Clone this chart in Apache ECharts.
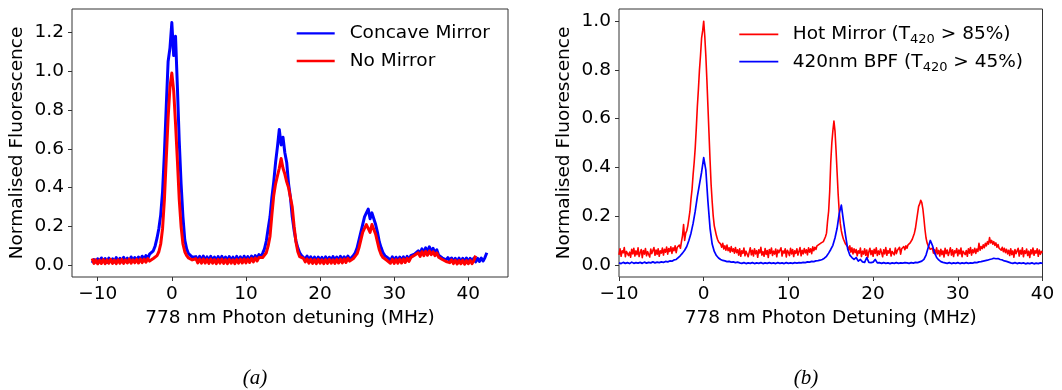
<!DOCTYPE html>
<html>
<head>
<meta charset="utf-8">
<script src="https://cdn.jsdelivr.net/npm/echarts@6/dist/echarts.min.js"></script>
<style>
  html, body { margin: 0; padding: 0; background: #ffffff; }
  #chart { width: 1062px; height: 390px; }
</style>
</head>
<body>
<div id="chart"></div>
<script>
// Detuning sampling
const STEP = 0.25;        // MHz between samples (panel a, BPF trace)
const FINE_STEP = 0.125;  // MHz between samples (Hot Mirror trace)
const startA = -10.75;    // panel (a) traces start here
const startB = -10;       // panel (b) traces start here

// (a) Concave Mirror, -10.75 … 42.5 MHz
const concaveMirror = [
  // -10.75 … -5.0
  0.012, 0.03, 0.016, 0.034, 0.018, 0.038, 0.02, 0.035, 0.015, 0.037, 0.02, 0.034,
  0.017, 0.04, 0.021, 0.036, 0.019, 0.041, 0.022, 0.037, 0.02, 0.043, 0.024, 0.04,
  // -4.75 … -3.0
  0.025, 0.043, 0.027, 0.047, 0.03, 0.05, 0.035, 0.058,
  // -2.75 … 3.0
  0.06, 0.075, 0.1, 0.14, 0.19, 0.26, 0.38, 0.58, 0.82, 1.05, 1.12, 1.25,
  1.08, 1.18, 0.92, 0.64, 0.42, 0.25, 0.13, 0.085, 0.06, 0.05, 0.042, 0.045,
  // 3.25 … 12.0
  0.045, 0.024, 0.046, 0.025, 0.048, 0.023, 0.044, 0.022, 0.046, 0.024,
  0.042, 0.021, 0.045, 0.023, 0.046, 0.024, 0.043, 0.022, 0.045, 0.024,
  0.042, 0.021, 0.046, 0.025, 0.044, 0.023, 0.047, 0.026, 0.045, 0.025,
  0.048, 0.03, 0.05, 0.034, 0.055, 0.042,
  // 12.25 … 17.5
  0.062, 0.085, 0.125, 0.19, 0.25, 0.35, 0.43, 0.53, 0.61, 0.70, 0.62,
  0.66, 0.58, 0.53, 0.42, 0.35, 0.25, 0.18, 0.125, 0.09, 0.065, 0.05,
  // 17.75 … 24.0
  0.05, 0.032, 0.048, 0.026, 0.044, 0.024, 0.042, 0.022, 0.043, 0.024,
  0.041, 0.021, 0.044, 0.023, 0.042, 0.024, 0.045, 0.025, 0.043, 0.024,
  0.046, 0.027, 0.044, 0.028, 0.048, 0.03,
  // 24.25 … 29.25
  0.04, 0.05, 0.065, 0.09, 0.13, 0.17, 0.21, 0.25, 0.27, 0.29, 0.24,
  0.27, 0.26, 0.21, 0.17, 0.12, 0.09, 0.065, 0.05, 0.042, 0.036,
  // 29.5 … 32.25
  0.024, 0.044, 0.023, 0.042, 0.022, 0.043, 0.024, 0.044, 0.025, 0.046, 0.03, 0.05,
  // 32.5 … 37.5
  0.04, 0.058, 0.05, 0.075, 0.062, 0.085, 0.066, 0.09, 0.07, 0.095, 0.07,
  0.088, 0.066, 0.08, 0.052, 0.062, 0.038, 0.048, 0.028, 0.04, 0.024,
  // 37.75 … 42.5
  0.038, 0.019, 0.036, 0.018, 0.037, 0.016, 0.036, 0.019, 0.038, 0.017,
  0.036, 0.019, 0.037, 0.018, 0.036, 0.02, 0.038, 0.022, 0.04, 0.065
];

// (a) No Mirror, -10.75 … 41.0 MHz
const noMirror = [
  // -10.75 … -5.0
  0.035, 0.01, 0.028, 0.008, 0.027, 0.01, 0.03, 0.009, 0.028, 0.011, 0.031, 0.01,
  0.027, 0.009, 0.029, 0.011, 0.031, 0.01, 0.028, 0.012, 0.032, 0.011, 0.029, 0.013,
  // -4.75 … -3.0
  0.031, 0.012, 0.033, 0.014, 0.032, 0.016, 0.035, 0.022,
  // -2.75 … 3.0
  0.03, 0.035, 0.04, 0.05, 0.07, 0.11, 0.19, 0.34, 0.55, 0.76, 0.92, 0.99,
  0.90, 0.73, 0.54, 0.34, 0.2, 0.11, 0.07, 0.05, 0.038, 0.032, 0.028, 0.03,
  // 3.25 … 12.0
  0.034, 0.013, 0.032, 0.011, 0.033, 0.012, 0.031, 0.01, 0.032, 0.011,
  0.03, 0.009, 0.031, 0.011, 0.032, 0.01, 0.03, 0.009, 0.031, 0.011,
  0.029, 0.009, 0.031, 0.011, 0.032, 0.012, 0.033, 0.013, 0.032, 0.015,
  0.036, 0.018, 0.038, 0.022, 0.04, 0.04,
  // 12.25 … 17.5
  0.04, 0.05, 0.065, 0.1, 0.15, 0.26, 0.36, 0.42, 0.46, 0.50, 0.55,
  0.5, 0.47, 0.43, 0.4, 0.41, 0.3, 0.2, 0.12, 0.07, 0.045, 0.035,
  // 17.75 … 24.0
  0.036, 0.018, 0.033, 0.011, 0.031, 0.01, 0.03, 0.009, 0.031, 0.011,
  0.029, 0.009, 0.03, 0.01, 0.031, 0.011, 0.029, 0.01, 0.031, 0.012,
  0.032, 0.013, 0.033, 0.015, 0.036, 0.022,
  // 24.25 … 29.25
  0.03, 0.035, 0.045, 0.06, 0.09, 0.13, 0.17, 0.19, 0.21, 0.19, 0.17,
  0.21, 0.2, 0.16, 0.12, 0.08, 0.055, 0.04, 0.03, 0.026, 0.022,
  // 29.5 … 32.25
  0.011, 0.031, 0.01, 0.03, 0.011, 0.032, 0.012, 0.033, 0.015, 0.036, 0.02, 0.04,
  // 32.5 … 37.5
  0.035, 0.052, 0.042, 0.065, 0.046, 0.07, 0.05, 0.072, 0.052, 0.074, 0.055,
  0.07, 0.05, 0.064, 0.042, 0.048, 0.03, 0.036, 0.02, 0.03, 0.014,
  // 37.75 … 41.0
  0.028, 0.009, 0.026, 0.007, 0.025, 0.008, 0.026, 0.006, 0.024, 0.008, 0.026, 0.009, 0.024, 0.05
];

// (b) Hot Mirror, -10 … 40 MHz, one row per MHz (8 samples)
const hotMirror = [
  0.041, 0.066, 0.035, 0.058, 0.049, 0.071, 0.033, 0.055,   // -10
  0.062, 0.038, 0.052, 0.031, 0.064, 0.045, 0.068, 0.036,   // -9
  0.057, 0.042, 0.07, 0.034, 0.05, 0.063, 0.029, 0.059,     // -8
  0.044, 0.067, 0.037, 0.054, 0.06, 0.032, 0.065, 0.046,    // -7
  0.053, 0.071, 0.039, 0.061, 0.043, 0.066, 0.035, 0.058,   // -6
  0.048, 0.069, 0.04, 0.064, 0.052, 0.073, 0.044, 0.067,    // -5
  0.055, 0.074, 0.047, 0.07, 0.058, 0.078, 0.05, 0.072,     // -4
  0.064, 0.081, 0.068, 0.095, 0.12, 0.165, 0.1, 0.13,       // -3
  0.14, 0.16, 0.19, 0.22, 0.27, 0.31, 0.37, 0.42,           // -2
  0.48, 0.56, 0.65, 0.72, 0.80, 0.86, 0.93, 0.96,           // -1
  1.0, 0.94, 0.86, 0.76, 0.65, 0.54, 0.43, 0.33,            // 0
  0.26, 0.2, 0.16, 0.14, 0.12, 0.105, 0.095, 0.09,          // 1
  0.085, 0.072, 0.088, 0.065, 0.078, 0.06, 0.081, 0.058,    // 2
  0.07, 0.052, 0.075, 0.055, 0.066, 0.048, 0.071, 0.05,     // 3
  0.062, 0.04, 0.066, 0.035, 0.058, 0.047, 0.069, 0.037,    // 4
  0.056, 0.064, 0.033, 0.052, 0.07, 0.041, 0.06, 0.036,     // 5
  0.066, 0.045, 0.058, 0.031, 0.062, 0.049, 0.072, 0.04,    // 6
  0.054, 0.035, 0.067, 0.043, 0.059, 0.03, 0.063, 0.047,    // 7
  0.069, 0.038, 0.056, 0.044, 0.065, 0.033, 0.061, 0.05,    // 8
  0.042, 0.07, 0.036, 0.057, 0.048, 0.066, 0.032, 0.06,     // 9
  0.051, 0.038, 0.068, 0.045, 0.063, 0.034, 0.058, 0.047,   // 10
  0.066, 0.04, 0.055, 0.071, 0.037, 0.06, 0.045, 0.067,     // 11
  0.049, 0.062, 0.041, 0.07, 0.052, 0.066, 0.046, 0.074,    // 12
  0.058, 0.072, 0.063, 0.078, 0.07, 0.084, 0.079, 0.09,     // 13
  0.086, 0.095, 0.1, 0.115, 0.13, 0.18, 0.22, 0.3,          // 14
  0.42, 0.5, 0.55, 0.59, 0.55, 0.47, 0.38, 0.29,            // 15
  0.22, 0.17, 0.14, 0.12, 0.105, 0.095, 0.085, 0.08,        // 16
  0.074, 0.06, 0.078, 0.052, 0.07, 0.045, 0.066, 0.05,      // 17
  0.063, 0.037, 0.058, 0.048, 0.069, 0.034, 0.056, 0.044,   // 18
  0.066, 0.039, 0.061, 0.031, 0.054, 0.068, 0.042, 0.059,   // 19
  0.035, 0.064, 0.047, 0.07, 0.038, 0.057, 0.043, 0.065,    // 20
  0.05, 0.033, 0.062, 0.045, 0.071, 0.039, 0.058, 0.048,    // 21
  0.067, 0.036, 0.055, 0.063, 0.041, 0.069, 0.046, 0.06,    // 22
  0.052, 0.072, 0.044, 0.066, 0.058, 0.075, 0.062, 0.078,   // 23
  0.068, 0.082, 0.075, 0.09, 0.095, 0.105, 0.11, 0.13,      // 24
  0.15, 0.18, 0.21, 0.24, 0.25, 0.265, 0.255, 0.23,         // 25
  0.19, 0.145, 0.11, 0.09, 0.078, 0.07, 0.064, 0.06,        // 26
  0.068, 0.048, 0.062, 0.041, 0.07, 0.045, 0.059, 0.036,    // 27
  0.064, 0.042, 0.057, 0.032, 0.068, 0.046, 0.061, 0.038,   // 28
  0.053, 0.07, 0.04, 0.062, 0.034, 0.058, 0.049, 0.067,     // 29
  0.037, 0.061, 0.045, 0.069, 0.033, 0.056, 0.064, 0.042,   // 30
  0.059, 0.035, 0.066, 0.048, 0.071, 0.04, 0.062, 0.05,     // 31
  0.068, 0.047, 0.065, 0.055, 0.088, 0.06, 0.075, 0.066,    // 32
  0.082, 0.07, 0.088, 0.078, 0.095, 0.085, 0.112, 0.09,     // 33
  0.1, 0.085, 0.095, 0.08, 0.09, 0.072, 0.083, 0.068,       // 34
  0.076, 0.06, 0.072, 0.054, 0.068, 0.05, 0.064, 0.045,     // 35
  0.06, 0.038, 0.066, 0.042, 0.057, 0.031, 0.063, 0.046,    // 36
  0.054, 0.068, 0.036, 0.06, 0.044, 0.07, 0.033, 0.058,     // 37
  0.047, 0.065, 0.038, 0.056, 0.03, 0.062, 0.045, 0.069,    // 38
  0.039, 0.058, 0.048, 0.066, 0.035, 0.061, 0.043, 0.055,   // 39
  0.05                                                      // 40
];

// (b) 420nm BPF, -10 … 40 MHz
const bpf420 = [
  // -10 … -5.25
  0.008, 0.005, 0.01, 0.006, 0.009, 0.005, 0.011, 0.006, 0.009, 0.007,
  0.01, 0.006, 0.011, 0.007, 0.01, 0.008, 0.012, 0.008, 0.011, 0.009,
  // -5.0 … -3.0
  0.012, 0.01, 0.014, 0.012, 0.016, 0.015, 0.02, 0.022, 0.03,
  // -2.75 … 4.0
  0.038, 0.048, 0.06, 0.075, 0.1, 0.13, 0.17, 0.22, 0.28, 0.33, 0.38, 0.44,
  0.39, 0.26, 0.15, 0.085, 0.055, 0.038, 0.028, 0.022, 0.018, 0.016, 0.013, 0.014,
  0.011, 0.012, 0.009, 0.011,
  // 4.25 … 13.75
  0.008, 0.006, 0.009, 0.005, 0.008, 0.006, 0.009, 0.005, 0.008, 0.006,
  0.009, 0.005, 0.008, 0.006, 0.009, 0.006, 0.008, 0.005, 0.009, 0.006,
  0.008, 0.005, 0.009, 0.006, 0.008, 0.006, 0.009, 0.007, 0.009, 0.008,
  0.01, 0.009, 0.012, 0.011, 0.014, 0.013, 0.016, 0.017, 0.019,
  // 14.0 … 17.25
  0.022, 0.027, 0.035, 0.048, 0.063, 0.08, 0.11, 0.15, 0.21, 0.245, 0.18, 0.12, 0.065, 0.04,
  // 17.5 … 23.75
  0.03, 0.022, 0.03, 0.015, 0.022, 0.012, 0.01, 0.03, 0.01, 0.009,
  0.011, 0.022, 0.008, 0.009, 0.006, 0.009, 0.006, 0.008, 0.005, 0.008,
  0.006, 0.009, 0.006, 0.008, 0.007, 0.009,
  // 24.0 … 27.25
  0.008, 0.006, 0.009, 0.007, 0.01, 0.009, 0.012, 0.015, 0.022, 0.04, 0.07, 0.1, 0.08, 0.05,
  // 27.5 … 32.25
  0.03, 0.02, 0.013, 0.01, 0.008, 0.006, 0.009, 0.005, 0.008, 0.006,
  0.009, 0.005, 0.008, 0.006, 0.009, 0.006, 0.008, 0.007, 0.01, 0.009,
  // 32.5 … 36.0
  0.012, 0.013, 0.015, 0.017, 0.019, 0.022, 0.024, 0.027, 0.025, 0.026, 0.022, 0.02, 0.016, 0.014, 0.011,
  // 36.25 … 40.0
  0.008, 0.006, 0.009, 0.005, 0.008, 0.006, 0.008, 0.004, 0.007, 0.005, 0.008, 0.004, 0.007, 0.005, 0.008, 0.006
];

// Tick labels
const xTicksA = [-10, 0, 10, 20, 30, 40];
const yTicksA = [0, 0.2, 0.4, 0.6, 0.8, 1.0, 1.2];
const xTicksB = [-10, 0, 10, 20, 30, 40];
const yTicksB = [0, 0.2, 0.4, 0.6, 0.8, 1.0];

const FONT = 'DejaVu Sans';
const FS = 18.5;
const FRAME = '#333333';

function toPairs(start, step, values) {
  return values.map((v, i) => [+(start + i * step).toFixed(3), v]);
}

function fmtX(v) {
  return v < 0 ? '\u2212' + Math.abs(v) : String(v);
}

function xAxisCfg(gridIndex, min, max, ticks, name) {
  return {
    type: 'value', gridIndex, min, max,
    axisLine: { show: false, onZero: false },
    splitLine: { show: false },
    axisTick: { show: true, inside: false, length: 4, lineStyle: { color: FRAME, width: 1 }, customValues: ticks },
    axisLabel: { customValues: ticks, margin: 8, color: '#000', fontFamily: FONT, fontSize: FS, formatter: fmtX },
    name, nameLocation: 'middle', nameGap: 30,
    nameTextStyle: { color: '#000', fontFamily: FONT, fontSize: FS }
  };
}

function yAxisCfg(gridIndex, min, max, ticks) {
  return {
    type: 'value', gridIndex, min, max,
    axisLine: { show: false, onZero: false },
    splitLine: { show: false },
    axisTick: { show: true, inside: false, length: 4, lineStyle: { color: FRAME, width: 1 }, customValues: ticks },
    axisLabel: { customValues: ticks, margin: 8, color: '#000', fontFamily: FONT, fontSize: FS, formatter: v => v.toFixed(1) },
    name: 'Normalised Fluorescence', nameLocation: 'middle', nameGap: 45,
    nameTextStyle: { color: '#000', fontFamily: FONT, fontSize: FS }
  };
}

function lineSeries(name, color, width, xi, yi, start, step, values) {
  return {
    type: 'line', name, xAxisIndex: xi, yAxisIndex: yi,
    data: toPairs(start, step, values),
    showSymbol: false, symbol: 'none',
    lineStyle: { color, width, join: 'round' },
    itemStyle: { color },
    emphasis: { disabled: true },
    z: 2
  };
}

const legendText = { color: '#000', fontFamily: FONT, fontSize: FS, lineHeight: 24, padding: [0, 0, 0, 10] };

const chart = echarts.init(document.getElementById('chart'), null, { renderer: 'canvas' });
chart.setOption({
  animation: false,
  backgroundColor: '#ffffff',
  grid: [
    { left: 72, top: 9, width: 436, height: 268, show: true, borderColor: FRAME, borderWidth: 1, backgroundColor: 'transparent' },
    { left: 619, top: 9, width: 423.5, height: 268, show: true, borderColor: FRAME, borderWidth: 1, backgroundColor: 'transparent' }
  ],
  xAxis: [
    xAxisCfg(0, -13.47, 45.36, xTicksA, '778 nm Photon detuning (MHz)'),
    xAxisCfg(1, -10, 40, xTicksB, '778 nm Photon Detuning (MHz)')
  ],
  yAxis: [
    yAxisCfg(0, -0.06, 1.32, yTicksA),
    yAxisCfg(1, -0.05, 1.05, yTicksB)
  ],
  legend: [
    {
      data: ['Concave Mirror', 'No Mirror'],
      orient: 'vertical', left: 296.7, top: 21.3, padding: 0,
      icon: 'rect', itemWidth: 38, itemHeight: 2.3, itemGap: 3.7,
      selectedMode: false,
      textStyle: legendText
    },
    {
      data: ['Hot Mirror (T420 > 85%)', '420nm BPF (T420 > 45%)'],
      orient: 'vertical', left: 739.3, top: 22.3, padding: 0,
      icon: 'rect', itemWidth: 39, itemHeight: 1.7, itemGap: 3.4,
      selectedMode: false,
      formatter: name => name.replace('T420', 'T{sub|420}'),
      textStyle: Object.assign({}, legendText, {
        padding: [0, 0, 0, 9.5],
        rich: { sub: { fontFamily: FONT, fontSize: 13, lineHeight: 13, verticalAlign: 'bottom', color: '#000' } }
      })
    }
  ],
  series: [
    lineSeries('Concave Mirror', '#0000ff', 3, 0, 0, startA, STEP, concaveMirror),
    lineSeries('No Mirror', '#ff0000', 3, 0, 0, startA, STEP, noMirror),
    lineSeries('Hot Mirror (T420 > 85%)', '#ff0000', 1.6, 1, 1, startB, FINE_STEP, hotMirror),
    lineSeries('420nm BPF (T420 > 45%)', '#0000ff', 1.7, 1, 1, startB, STEP, bpf420)
  ],
  graphic: [
    { type: 'text', x: 255, y: 378, style: { text: '(a)', font: 'italic 21px "Liberation Serif"', fill: '#000', textAlign: 'center', textVerticalAlign: 'middle' } },
    { type: 'text', x: 806, y: 378, style: { text: '(b)', font: 'italic 21px "Liberation Serif"', fill: '#000', textAlign: 'center', textVerticalAlign: 'middle' } }
  ]
});
</script>
</body>
</html>
